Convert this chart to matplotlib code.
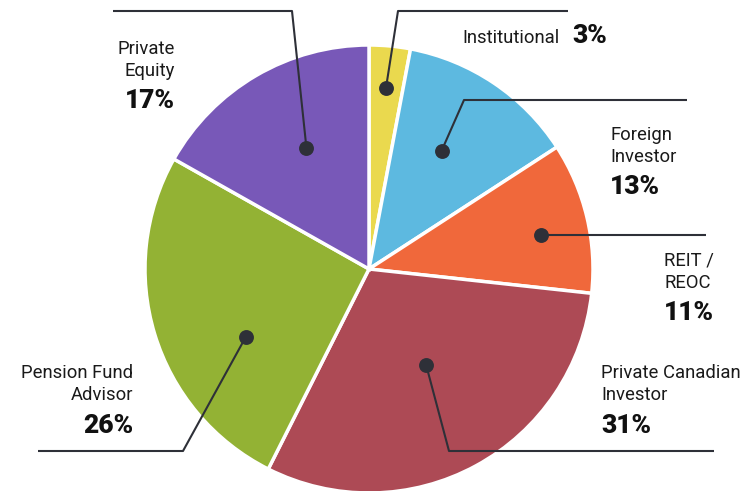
import numpy as np
import matplotlib
matplotlib.use("Agg")
import matplotlib.pyplot as plt

# slice data, clockwise from 12 o'clock
labels = [["Institutional"], ["Foreign", "Investor"], ["REIT /", "REOC"],
          ["Private Canadian", "Investor"], ["Pension Fund", "Advisor"], ["Private", "Equity"]]
values = [3, 13, 11, 31, 26, 17]
colors = ["#EAD94E", "#5DB9E0", "#F0683B", "#AD4A55", "#93B234", "#7858B8"]

W, H = 750, 491
def Y(p):
    return H - p

fig = plt.figure(figsize=(7.5, 4.91), dpi=100)
ax = fig.add_axes([0, 0, 1, 1])
plt.rcParams['font.family'] = ['Roboto', 'DejaVu Sans']

cx, cy, R = 369, Y(269), 224
wedges, _ = ax.pie(values, colors=colors, startangle=90, counterclock=False,
                   center=(cx, cy), radius=R,
                   wedgeprops=dict(edgecolor="white", linewidth=2.5))
ax.set_xlim(0, W)
ax.set_ylim(0, H)
ax.axis("off")

# dot placement inside the wedge: radial fraction and angular fraction (clockwise)
dot_r = [0.81, 0.62, 0.78, 0.50, 0.63, 0.61]
dot_a = [0.5, 0.45, 0.56, 0.48, 0.37, 0.55]
# leader line path after the dot, in pixels
paths = [[(398, 11), (568, 11)],
         [(464, 100), (687, 100)],
         [(706, 235)],
         [(449, 451), (714, 451)],
         [(183, 451), (38, 451)],
         [(292, 11), (113, 11)]]
# text anchor: x, centre y of first line, alignment
txt = [(560, 36, "right"), (610, 133, "left"), (664, 259, "left"),
       (601, 372, "left"), (133, 372, "right"), (175, 47, "right")]

line_c = "#2E3038"
fs, fs_pct = 13.3, 19
for w, fr, fa, path, (tx, ty, ha), lab, v in zip(wedges, dot_r, dot_a, paths, txt, labels, values):
    # clockwise wedges start at theta2
    ang = np.deg2rad(w.theta2 - fa * (w.theta2 - w.theta1))
    dx = cx + fr * R * np.cos(ang)
    dy = cy + fr * R * np.sin(ang)
    xs = [dx] + [p[0] for p in path]
    ys = [dy] + [Y(p[1]) for p in path]
    if len(path) == 1:
        ys[0] = ys[1]
    ax.plot(xs, ys, color=line_c, lw=1.5, solid_capstyle="butt", zorder=3)
    ax.scatter([dx], [ys[0]], s=115, color=line_c, linewidths=0, zorder=4)
    if len(lab) == 1:
        ax.text(tx, Y(ty + 6.5), lab[0], ha="right", va="baseline", fontsize=fs, color="#1a1a1a")
        ax.text(tx + 12, Y(34 + 9.4), f"{v}%", ha="left", va="baseline", fontsize=fs_pct,
                fontweight="black", color="#111111")
    else:
        for i, line in enumerate(lab):
            ax.text(tx, Y(ty + 22 * i + 6.5), line, ha=ha, va="baseline", fontsize=fs,
                    color="#1a1a1a")
        ax.text(tx, Y(ty + 52 + 9.4), f"{v}%", ha=ha, va="baseline", fontsize=fs_pct,
                fontweight="black", color="#111111")

fig.savefig("out.png", dpi=100)
